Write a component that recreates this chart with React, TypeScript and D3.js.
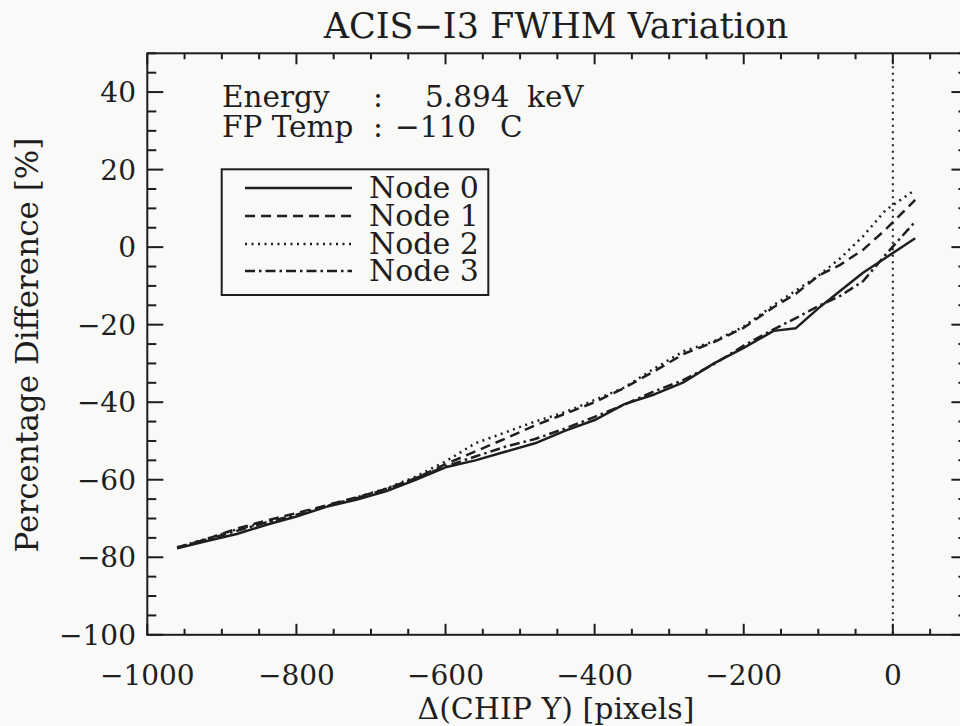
import React from "react";
import * as d3 from "d3";

// ---- data ----
const xValues = [-960, -920, -880, -840, -800, -760, -720, -680, -640, -600, -560, -520, -480, -440, -400, -360, -320, -280, -240, -200, -160, -130, -100, -70, -40, -10, 30];
const node0 = [-77.7, -75.8, -74.0, -71.6, -69.5, -67.0, -65.2, -63.0, -60.0, -56.8, -55.0, -52.8, -50.6, -47.4, -44.6, -40.5, -38.0, -34.8, -30.0, -26.0, -21.6, -20.9, -15.8, -11.2, -6.6, -2.8, 2.3];
const node1 = [-77.5, -75.3, -72.6, -70.5, -68.6, -66.6, -64.6, -62.4, -59.6, -56.0, -52.7, -49.4, -46.0, -43.0, -40.0, -36.3, -32.0, -27.5, -24.5, -20.8, -15.5, -12.0, -7.4, -4.5, -0.7, 4.5, 12.2];
const node2 = [-77.4, -75.2, -72.8, -71.0, -69.2, -66.9, -64.6, -62.3, -59.2, -55.3, -50.6, -47.8, -45.0, -42.6, -39.4, -36.2, -31.3, -26.8, -24.3, -20.5, -15.0, -11.2, -7.4, -2.8, 2.8, 9.5, 14.8];
const node3 = [-77.6, -75.4, -73.2, -71.0, -69.0, -66.8, -64.8, -62.5, -59.6, -56.6, -54.0, -51.5, -49.5, -46.8, -43.8, -40.6, -37.2, -34.2, -30.2, -25.4, -21.2, -18.3, -15.2, -12.5, -8.8, -2.0, 6.6];
const seriesNames = ["Node 0", "Node 1", "Node 2", "Node 3"];
const xMajorTicks = [-1000, -800, -600, -400, -200, 0];
const yMajorTicks = [-100, -80, -60, -40, -20, 0, 20, 40];
const titleText = "ACIS\u2212I3 FWHM Variation";
const xLabel = "\u0394(CHIP Y) [pixels]";
const yLabel = "Percentage Difference [%]";
const infoLabels = ["Energy", "FP Temp"];
const infoValues = ["5.894", "\u2212110"];
const infoUnits = ["keV", "C"];

const W = 960;
const H = 726;
const INK = "#1e1e1e";
const FONT = "'DejaVu Serif', serif";
const BG = "#f9f9f8";

const dashes = ["none", "10,6", "2,4.5", "10,4,2.5,4"];

export default function App() {
  const x = d3.scaleLinear().domain([-1000, 100]).range([147.3, 967.4]);
  const y = d3.scaleLinear().domain([-100, 50]).range([634.8, 53.3]);
  const series = [node0, node1, node2, node3];
  const line = d3
    .line<[number, number]>()
    .x((d) => x(d[0]))
    .y((d) => y(d[1]));

  const [x0, x1] = x.range();
  const [yb, yt] = y.range();

  const xMinor = d3.range(-1000, 101, 50);
  const yMinor = d3.range(-100, 51, 5);

  const xMajLen = 11, xMinLen = 6, yMajLen = 16, yMinLen = 9;

  const legendRowY = [188, 216, 244, 271];
  const infoBase = [107, 137];
  const infoValX = [425, 395];
  const infoUnitX = [527, 500];

  return (
    <svg
      width={W}
      height={H}
      style={{ position: "absolute", left: 0, top: 0, background: BG }}
      fontFamily={FONT}
      fill={INK}
    >
      <rect x={0} y={0} width={W} height={H} fill={BG} />
      {/* title */}
      <text x={556} y={38} fontSize={35} textAnchor="middle">
        {titleText}
      </text>

      {/* frame */}
      <rect x={x0} y={yt} width={x1 - x0} height={yb - yt} fill="none" stroke={INK} strokeWidth={2} />

      {/* x ticks bottom & top */}
      {xMinor.map((v) => {
        const major = v % 200 === 0;
        const len = major ? xMajLen : xMinLen;
        return (
          <g key={"xt" + v} stroke={INK} strokeWidth={2}>
            <line x1={x(v)} x2={x(v)} y1={yb} y2={yb - len} />
            <line x1={x(v)} x2={x(v)} y1={yt} y2={yt + len} />
          </g>
        );
      })}
      {/* y ticks left & right */}
      {yMinor.map((v) => {
        const major = v % 20 === 0;
        const len = major ? yMajLen : yMinLen;
        return (
          <g key={"yt" + v} stroke={INK} strokeWidth={2}>
            <line x1={x0} x2={x0 + len} y1={y(v)} y2={y(v)} />
            <line x1={x1} x2={x1 - len} y1={y(v)} y2={y(v)} />
          </g>
        );
      })}

      {/* tick labels */}
      {xMajorTicks.map((v) => (
        <text key={"xl" + v} x={x(v)} y={685} fontSize={28} textAnchor="middle">
          {v < 0 ? "\u2212" + Math.abs(v) : String(v)}
        </text>
      ))}
      {yMajorTicks.map((v) => (
        <text key={"yl" + v} x={136} y={y(v) + 10} fontSize={28} textAnchor="end">
          {v < 0 ? "\u2212" + Math.abs(v) : String(v)}
        </text>
      ))}

      {/* axis titles */}
      <text x={556} y={719} fontSize={30} textAnchor="middle">
        {xLabel}
      </text>
      <text transform={`translate(38,345) rotate(-90)`} fontSize={31} textAnchor="middle">
        {yLabel}
      </text>

      {/* vertical dotted line at 0 */}
      <line x1={x(0)} x2={x(0)} y1={yt} y2={yb} stroke={INK} strokeWidth={2} strokeDasharray="2,4.5" />

      {/* series */}
      {series.map((s, i) => (
        <path
          key={"s" + i}
          d={line(xValues.map((xv, j) => [xv, s[j]] as [number, number])) || ""}
          fill="none"
          stroke={INK}
          strokeWidth={2.5}
          strokeDasharray={dashes[i]}
          strokeLinejoin="round"
        />
      ))}

      {/* info text */}
      {infoLabels.map((t, i) => (
        <g key={"info" + i} fontSize={29.5}>
          <text x={222} y={infoBase[i]}>{t}</text>
          <text x={373} y={infoBase[i]}>:</text>
          <text x={infoValX[i]} y={infoBase[i]}>{infoValues[i]}</text>
          <text x={infoUnitX[i]} y={infoBase[i]}>{infoUnits[i]}</text>
        </g>
      ))}

      {/* legend */}
      <rect x={221.7} y={169.3} width={266.6} height={125.7} fill="none" stroke={INK} strokeWidth={2} />
      {seriesNames.map((n, i) => (
        <g key={"lg" + i}>
          <line
            x1={245}
            x2={352}
            y1={legendRowY[i]}
            y2={legendRowY[i]}
            stroke={INK}
            strokeWidth={2.5}
            strokeDasharray={dashes[i]}
          />
          <text x={369} y={legendRowY[i] + 10} fontSize={30}>
            {n}
          </text>
        </g>
      ))}
    </svg>
  );
}
